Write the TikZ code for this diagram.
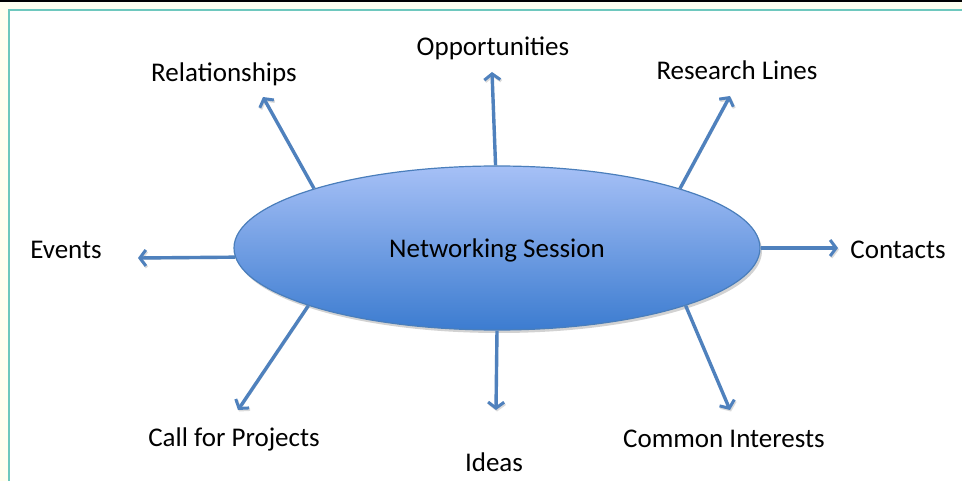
\documentclass[tikz,border=0pt]{standalone}
\usepackage{fontspec}
\setmainfont{Carlito}
\usetikzlibrary{arrows.meta,shapes.geometric,shadows}
\definecolor{linkblue}{RGB}{79,129,189}
\definecolor{rimblue}{RGB}{74,126,187}
\definecolor{topblue}{RGB}{166,192,246}
\definecolor{botblue}{RGB}{60,124,208}
\definecolor{frameteal}{RGB}{110,200,190}
\definecolor{paper}{RGB}{255,255,240}

\tikzset{
  link/.style={linkblue,line width=3.4pt,-{Straight Barb[length=6pt,width=16pt,line width=3pt]},
    preaction={draw=black!40,opacity=0.35,transform canvas={xshift=1pt,yshift=-1.5pt}}},
  label/.style={font=\fontsize{27}{31}\selectfont,inner sep=0pt}
}

\begin{document}
\begin{tikzpicture}[x=1pt,y=-1pt]
  \useasboundingbox (0,0) rectangle (962,481);

  % frame
  \fill[paper] (0,0) rectangle (962,481);
  \fill[white] (9.5,10.5) rectangle (962,481);
  \fill[black] (0,0) rectangle (962,2.5);
  \draw[frameteal,line width=2pt] (962,10) -- (9,10) -- (9,481);

  % centre
  \node[ellipse,minimum width=526pt,minimum height=164pt,draw=rimblue,line width=1.2pt,
        top color=topblue,bottom color=botblue,
        drop shadow={opacity=0.35,shadow xshift=2pt,shadow yshift=-3pt},
        label,text height=19.5pt,text depth=0pt] (session) at (497,248) {Networking Session};

  % labels
  \node[label] (opp) at (493,48) {Opportunities};
  \node[label] (rel) at (224,74) {Relationships};
  \node[label] (res) at (737,70) {Research Lines};
  \node[label] (con) at (898,250) {Contacts};
  \node[label] (evt) at (66,250) {Events};
  \node[label] (com) at (724,439) {Common Interests};
  \node[label] (ide) at (494,462) {Ideas};
  \node[label] (cfp) at (234,439) {Call for Projects};

  % arrow ends
  \coordinate (oppEnd) at (492,72);
  \coordinate (relEnd) at (263,97);
  \coordinate (resEnd) at (730,96);
  \coordinate (conEnd) at (838,248);
  \coordinate (evtEnd) at (138,258);
  \coordinate (comEnd) at (730,410);
  \coordinate (ideEnd) at (496,410);
  \coordinate (cfpEnd) at (238,410);

  % arrows
  \draw[link] (session.91) -- (oppEnd);
  \draw[link] (session.162.5) -- (relEnd);
  \draw[link] (session.18) -- (resEnd);
  \draw[link] (session.east) -- (conEnd);
  \draw[link] (session.182) -- (evtEnd);
  \draw[link] (session.-17.2) -- (comEnd);
  \draw[link] (session.south) -- (ideEnd);
  \draw[link] (session.197.5) -- (cfpEnd);
\end{tikzpicture}
\end{document}
